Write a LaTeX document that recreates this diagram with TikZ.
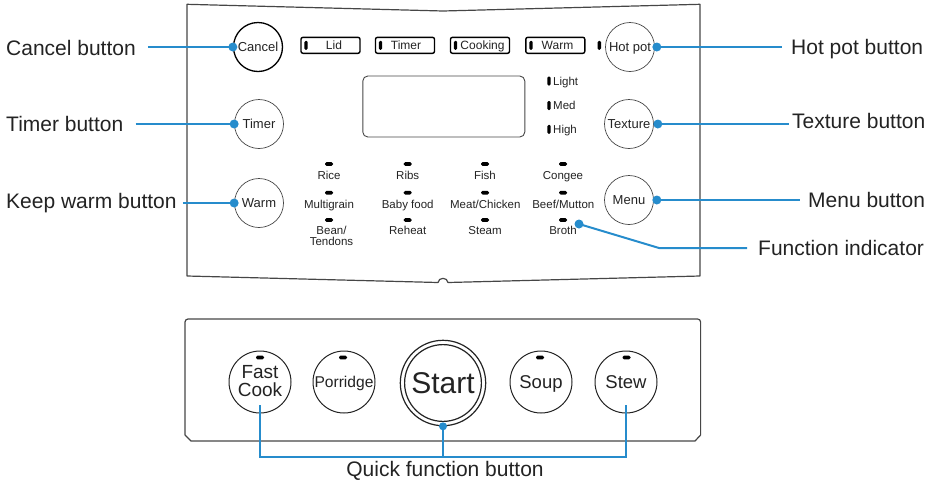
\documentclass[tikz,border=0pt]{standalone}
\usepackage{fontspec}
\setmainfont{Liberation Sans}
\definecolor{cblue}{RGB}{38,140,204}
\definecolor{ink}{RGB}{35,35,35}
\definecolor{edge}{RGB}{70,70,70}
\begin{document}
\begin{tikzpicture}[x=1pt,y=-1pt,
  lbl/.style={font=\fontsize{21}{24}\selectfont, text=ink, inner sep=0pt, text height=15pt, text depth=0pt, anchor=west},
  ubtn/.style={circle, draw=edge, line width=0.7pt, minimum size=49pt, inner sep=0pt, text=ink, font=\fontsize{13}{15}\selectfont, text height=9.3pt, text depth=0pt},
  qbase/.style={circle, draw=ink, line width=1pt, minimum size=62pt, inner sep=0pt, text=ink},
  qbtn/.style={qbase, font=\fontsize{18.5}{20}\selectfont, text height=13.2pt, text depth=0pt},
  hled/.style={fill=black, rounded corners=1.5pt, minimum width=8pt, minimum height=3.6pt, inner sep=0pt},
  vled/.style={fill=black, rounded corners=1.4pt, minimum width=3.4pt, minimum height=9pt, inner sep=0pt},
  ibox/.style={draw=black, line width=1.4pt, rounded corners=2pt, minimum width=59pt, minimum height=16pt, inner sep=0pt},
  itxt/.style={font=\fontsize{12}{14}\selectfont, text=ink, inner sep=0pt, text height=8.6pt, text depth=0pt},
  flbl/.style={font=\fontsize{11.5}{13}\selectfont, text=ink, inner sep=0pt, text height=8.2pt, text depth=0pt},
  link/.style={draw=cblue, line width=2pt},
  panel/.style={draw=edge, line width=1.2pt, line join=round}
]
\useasboundingbox (0,0) rectangle (937,480);

% ---------- upper panel ----------
\draw[panel] (187,4.3) -- (187,276) -- (438,282.5) .. controls (438.5,277) and (447.5,277) .. (448,282.5) -- (700,276) -- (700,4.3) -- (443,11) -- cycle;

% buttons (upper)
\node[ubtn, draw=black, line width=1.3pt] (cancel) at (258,47) {Cancel};
\node[ubtn] (timerbtn) at (259,124) {Timer};
\node[ubtn] (warmbtn) at (259,203) {Warm};
\node[ubtn] (hotpot) at (630,47) {Hot pot};
\node[ubtn] (texture) at (629,124) {Texture};
\node[ubtn] (menu) at (629,200) {Menu};

% indicator boxes
\node[ibox] (lidbox) at (330.5,45.3) {};
\node[vled] (lidled) at (306,45.3) {};
\node[itxt] (lidtxt) at (334,45.3) {Lid};
\node[ibox] (timerbox) at (405,45.3) {};
\node[vled] (timerled) at (380.5,45.3) {};
\node[itxt] (timertxt) at (406,45.3) {Timer};
\node[ibox] (cookbox) at (480,45.3) {};
\node[vled] (cookled) at (455.5,45.3) {};
\node[itxt] (cooktxt) at (482.5,45.3) {Cooking};
\node[ibox] (warmbox) at (555.3,45.3) {};
\node[vled] (warmled) at (531,45.3) {};
\node[itxt] (warmtxt) at (557.5,45.3) {Warm};
\node[vled] (hotpotled) at (599.3,45.3) {};

% display
\node[draw=edge, line width=0.9pt, rounded corners=5pt, minimum width=162pt, minimum height=61pt, inner sep=0pt] (display) at (443.8,106.5) {};

% texture indicators
\node[vled] (lightled) at (549,81) {};
\node[itxt, anchor=west, font=\fontsize{11.5}{13}\selectfont] (lighttxt) at (553,81) {Light};
\node[vled] (medled) at (549,105.5) {};
\node[itxt, anchor=west, font=\fontsize{11.5}{13}\selectfont] (medtxt) at (553,105.5) {Med};
\node[vled] (highled) at (549,129.3) {};
\node[itxt, anchor=west, font=\fontsize{11.5}{13}\selectfont] (hightxt) at (553,129.3) {High};

% function indicators
\foreach \nm/\x in {c1/329, c2/407.7, c3/485, c4/563}{
  \node[hled] (\nm r1) at (\x,164) {};
  \node[hled] (\nm r2) at (\x,192.7) {};
  \node[hled] (\nm r3) at (\x,220) {};
}
\node[flbl] (rice) at (329,175.7) {Rice};
\node[flbl] (ribs) at (407.7,175.7) {Ribs};
\node[flbl] (fish) at (485,175.7) {Fish};
\node[flbl] (congee) at (563,175.7) {Congee};
\node[flbl] (multigrain) at (329,204.3) {Multigrain};
\node[flbl] (babyfood) at (407.7,204.3) {Baby food};
\node[flbl] (meat) at (485.3,204.3) {Meat/Chicken};
\node[flbl] (beef) at (563.3,204.3) {Beef/Mutton};
\node[flbl] (bean) at (331.5,230.7) {Bean/};
\node[flbl] (tendons) at (331.5,241.7) {Tendons};
\node[flbl] (reheat) at (407.7,230.7) {Reheat};
\node[flbl] (steam) at (485,230.7) {Steam};
\node[flbl] (broth) at (563,230.7) {Broth};

% ---------- lower panel ----------
\draw[panel] (191,441) -- (185,435) [rounded corners=3pt] -- (185,319) -- (700.6,319) [sharp corners] -- (700.6,435) -- (695,441) -- cycle;

\node[qbase] (fastcook) at (260,382) {};
\node[font=\fontsize{19}{20}\selectfont, text=ink, inner sep=0pt, text height=13.8pt, text depth=0pt] (fasttxt) at (260,372) {Fast};
\node[font=\fontsize{19}{20}\selectfont, text=ink, inner sep=0pt, text height=13.8pt, text depth=0pt] (cooktxt2) at (260,389.5) {Cook};
\node[qbtn, font=\fontsize{15.6}{18}\selectfont, text height=11.2pt] (porridge) at (344,382) {Porridge};
\node[qbase, line width=1.2pt, minimum size=85.4pt, font=\fontsize{30}{34}\selectfont, text height=21.5pt, text depth=0pt] (start) at (443,383) {Start};
\draw[draw=ink, line width=1.2pt] (start.center) circle (38.4pt);
\node[qbtn] (soup) at (541,382) {Soup};
\node[qbtn] (stew) at (626,382) {Stew};
\node[hled] (fcled) at (260,357.5) {};
\node[hled] (porled) at (343,357.5) {};
\node[hled] (soupled) at (540,357.5) {};
\node[hled] (stewled) at (626.5,357.5) {};

% ---------- labels ----------
\node[lbl] (cancellbl) at (6,48) {Cancel button};
\node[lbl] (timerlbl) at (6,123.5) {Timer button};
\node[lbl] (warmlbl) at (6,201) {Keep warm button};
\node[lbl] (hotpotlbl) at (791,46.5) {Hot pot button};
\node[lbl] (texturelbl) at (792,120.5) {Texture button};
\node[lbl] (menulbl) at (808,200) {Menu button};
\node[lbl] (funclbl) at (758,247.5) {Function indicator};
\node[lbl, anchor=center] (quicklbl) at (445,469) {Quick function button};

% ---------- connectors ----------
\draw[link] ([xshift=12pt]cancellbl.east |- cancel.west) -- (cancel.west);
\fill[cblue] (cancel.west) circle (4.5pt);
\draw[link] ([xshift=12pt]timerlbl.east |- timerbtn.west) -- (timerbtn.west);
\fill[cblue] (timerbtn.west) circle (4.5pt);
\draw[link] ([xshift=6pt]warmlbl.east |- warmbtn.west) -- (warmbtn.west);
\fill[cblue] (warmbtn.west) circle (4.5pt);

\draw[link] ([xshift=2pt]hotpot.east) -- ([xshift=-9pt]hotpotlbl.west |- hotpot.east);
\fill[cblue] ([xshift=2pt]hotpot.east) circle (4.5pt);
\draw[link] ([xshift=4pt]texture.east) -- ([xshift=-3pt]texturelbl.west |- texture.east);
\fill[cblue] ([xshift=4pt]texture.east) circle (4.5pt);
\draw[link] ([xshift=3pt]menu.east) -- ([xshift=-8pt]menulbl.west |- menu.east);
\fill[cblue] ([xshift=3pt]menu.east) circle (4.5pt);

\coordinate (fdot) at (579,224);
\coordinate (fbend) at (659,248);
\draw[link, line join=round] (fdot) -- (fbend) -- ([xshift=-11pt]funclbl.west |- fbend);
\fill[cblue] (fdot) circle (4.5pt);

\coordinate (qbar) at (445,457);
\draw[link] ([yshift=-23pt]fastcook.center) |- (qbar) -| ([yshift=-23pt]stew.center);
\draw[link] (start.south) -- (start.south |- qbar);
\fill[cblue] (start.south) circle (4pt);
\end{tikzpicture}
\end{document}
